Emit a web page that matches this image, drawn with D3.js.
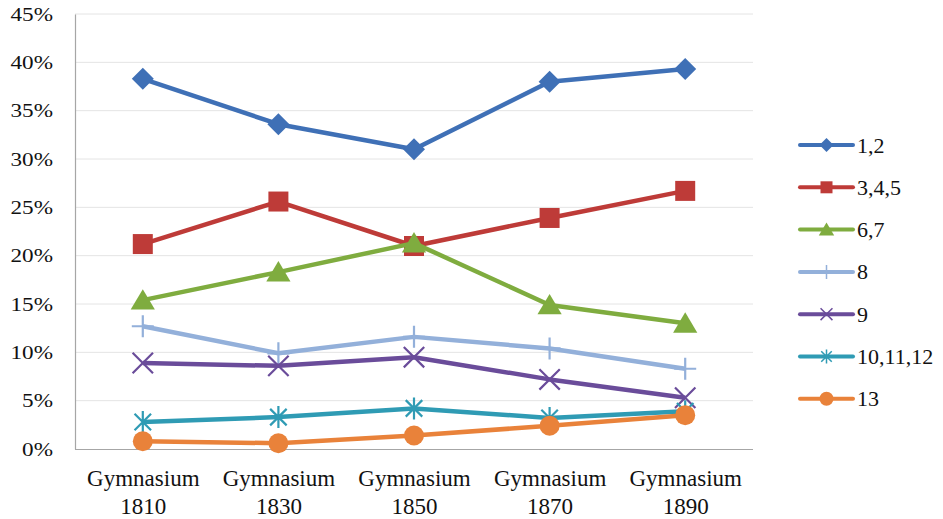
<!DOCTYPE html>
<html>
<head>
<meta charset="utf-8">
<script src="https://cdn.jsdelivr.net/npm/d3@7"></script>
<style>
  html, body { margin: 0; padding: 0; background: #fff; }
</style>
</head>
<body>
<svg id="chart" width="943" height="519"></svg>
<script>
// Share of pupils per class group, by gymnasium cohort
const categories = ["Gymnasium 1810", "Gymnasium 1830", "Gymnasium 1850", "Gymnasium 1870", "Gymnasium 1890"];
const seriesNames = ["1,2", "3,4,5", "6,7", "8", "9", "10,11,12", "13"];
const values12 = [38.3, 33.6, 31.0, 38.0, 39.3];
const values345 = [21.2, 25.6, 21.0, 23.9, 26.7];
const values67 = [15.4, 18.3, 21.3, 14.9, 13.0];
const values8 = [12.7, 9.9, 11.6, 10.4, 8.3];
const values9 = [8.9, 8.6, 9.5, 7.2, 5.3];
const values101112 = [2.8, 3.3, 4.2, 3.2, 3.9];
const values13 = [0.8, 0.6, 1.4, 2.4, 3.5];
const yTicks = [0, 5, 10, 15, 20, 25, 30, 35, 40, 45];

const seriesValues = [values12, values345, values67, values8, values9, values101112, values13];
const colors = ["#3F70B6", "#BE3B38", "#7FAC3F", "#93B0DA", "#6A4C9A", "#2F9BB4", "#E9823A"];
const markers = ["diamond", "square", "triangle", "plus", "x", "asterisk", "circle"];
const serif = "Liberation Serif, DejaVu Serif, serif";

const svg = d3.select("#chart");
const plotLeft = 75, plotRight = 753, plotTop = 14, plotBottom = 449;

const x = d3.scalePoint().domain(categories).range([plotLeft, plotRight]).padding(0.5);
const y = d3.scaleLinear().domain([0, 45]).range([plotBottom, plotTop]);

// horizontal gridlines
svg.append("g").selectAll("line").data(yTicks.filter(d => d > 0)).join("line")
  .attr("x1", plotLeft).attr("x2", plotRight)
  .attr("y1", d => y(d)).attr("y2", d => y(d))
  .attr("stroke", "#E4E4E4").attr("stroke-width", 1);

// y axis
const yAxis = svg.append("g").attr("transform", `translate(${plotLeft},0)`)
  .call(d3.axisLeft(y).tickValues(yTicks).tickSize(0).tickPadding(0).tickFormat(d => d + "%"));
yAxis.attr("font-family", serif);
yAxis.select(".domain").attr("stroke", "#A6A6A6").attr("stroke-width", 1.2);
yAxis.selectAll(".tick text")
  .attr("x", null).attr("dy", null)
  .attr("fill", "#111")
  .attr("font-size", 19).attr("text-anchor", "end")
  .attr("dominant-baseline", "central")
  .attr("transform", "translate(-22,0) scale(1.22,1)");

// x axis
const xAxis = svg.append("g").attr("transform", `translate(0,${plotBottom})`)
  .call(d3.axisBottom(x).tickSize(0).tickFormat(""));
xAxis.attr("font-family", serif);
xAxis.select(".domain").attr("stroke", "#A6A6A6").attr("stroke-width", 1.2)
  .attr("d", `M${plotLeft},0.5H${plotRight}`);
xAxis.selectAll(".tick").each(function(d) {
  const parts = d.split(" ");
  const t = d3.select(this).append("text")
    .attr("fill", "#111")
    .attr("font-size", 23).attr("text-anchor", "middle");
  t.append("tspan").attr("x", 0).attr("y", 37).text(parts[0]);
  t.append("tspan").attr("x", 0).attr("y", 65).text(parts[1]);
});

// marker shapes
function markerPath(type, s) {
  switch (type) {
    case "diamond": return `M0,${-s}L${s},0L0,${s}L${-s},0Z`;
    case "square": return `M${-s},${-s}H${s}V${s}H${-s}Z`;
    case "triangle": return `M0,${-s}L${s * 1.1},${s * 0.85}L${-s * 1.1},${s * 0.85}Z`;
    case "circle": return `M${s},0A${s},${s} 0 1,1 ${-s},0A${s},${s} 0 1,1 ${s},0Z`;
    case "plus": return `M${-s},0H${s}M0,${-s}V${s}`;
    case "x": { const a = s * 0.85; return `M${-a},${-a}L${a},${a}M${-a},${a}L${a},${-a}`; }
    case "asterisk": { const a = s * 0.75; return `M${-a},${-a}L${a},${a}M${-a},${a}L${a},${-a}M0,${-s}V${s}`; }
  }
}
const filled = t => ["diamond", "square", "triangle", "circle"].includes(t);
const markerSize = { diamond: 11, square: 10, triangle: 11, circle: 10, plus: 11, x: 12, asterisk: 11 };

const line = d3.line().x((d, i) => x(categories[i])).y(d => y(d));

const seriesG = svg.append("g").selectAll("g").data(seriesValues).join("g");
seriesG.append("path")
  .attr("d", d => line(d))
  .attr("fill", "none")
  .attr("stroke", (d, i) => colors[i])
  .attr("stroke-width", 4.5)
  .attr("stroke-linejoin", "round");
seriesG.each(function(vals, i) {
  const t = markers[i];
  d3.select(this).selectAll(".m").data(vals).join("path")
    .attr("class", "m")
    .attr("transform", (d, j) => `translate(${x(categories[j])},${y(d)})`)
    .attr("d", markerPath(t, markerSize[t]))
    .attr("fill", filled(t) ? colors[i] : "none")
    .attr("stroke", colors[i])
    .attr("stroke-width", filled(t) ? 0 : 2.2);
});

// legend
const legend = svg.append("g").attr("font-family", serif)
  .selectAll("g").data(seriesNames).join("g")
  .attr("transform", (d, i) => `translate(800,${145 + i * 42.3})`);
legend.append("line")
  .attr("x1", 0).attr("x2", 53).attr("y1", 0).attr("y2", 0)
  .attr("stroke", (d, i) => colors[i]).attr("stroke-width", 4).attr("stroke-linecap", "round");
legend.append("path")
  .attr("transform", "translate(26.5,0)")
  .attr("d", (d, i) => markerPath(markers[i], markers[i] === "square" ? 6 : 7))
  .attr("fill", (d, i) => filled(markers[i]) ? colors[i] : "none")
  .attr("stroke", (d, i) => colors[i])
  .attr("stroke-width", (d, i) => filled(markers[i]) ? 0 : 1.5);
legend.append("text")
  .attr("x", 57).attr("y", 0)
  .attr("dominant-baseline", "central")
  .attr("fill", "#111")
  .attr("font-size", 22)
  .text(d => d);
</script>
</body>
</html>
